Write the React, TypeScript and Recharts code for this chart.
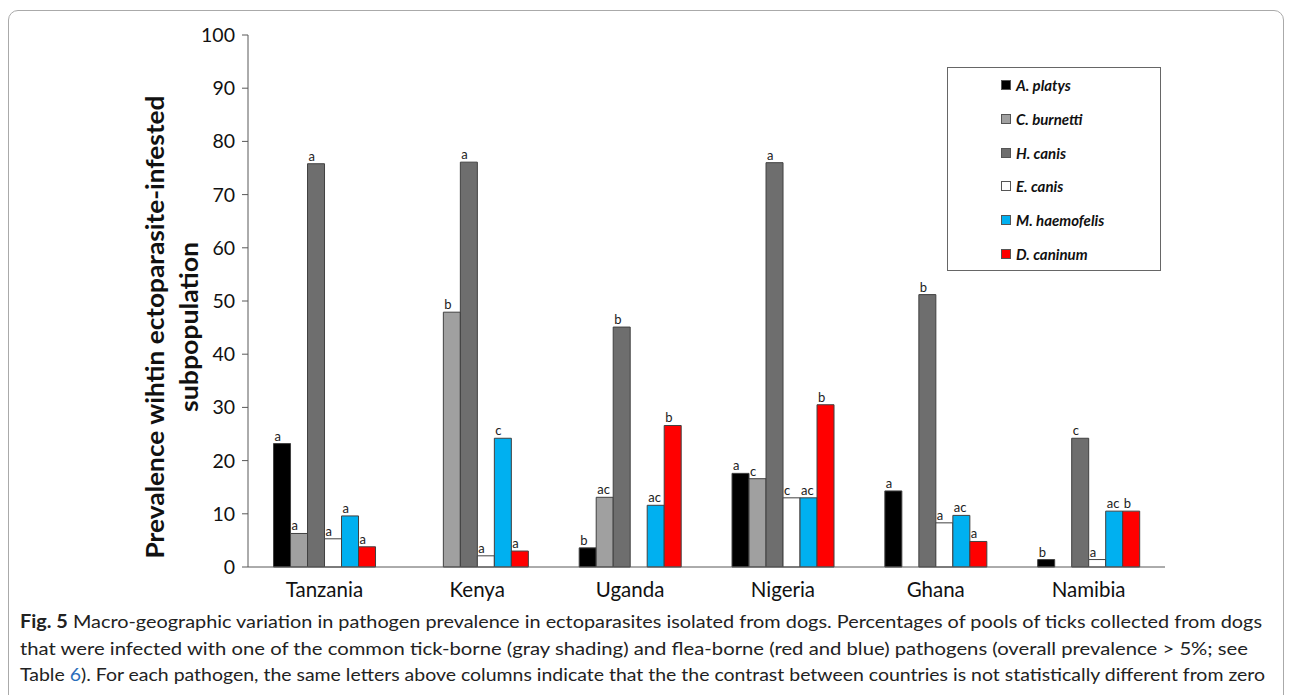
import { BarChart, Bar, XAxis, YAxis, LabelList } from 'recharts';

/* ---------- data ---------- */
const countries = ['Tanzania', 'Kenya', 'Uganda', 'Nigeria', 'Ghana', 'Namibia'];

const aPlatys = [23.2, 0, 3.6, 17.6, 14.3, 1.4];
const cBurnetti = [6.3, 47.9, 13.1, 16.6, 0, 0];
const hCanis = [75.8, 76.1, 45.1, 76.0, 51.2, 24.2];
const eCanis = [5.3, 2.1, 0, 13.0, 8.3, 1.4];
const mHaemofelis = [9.6, 24.2, 11.6, 13.0, 9.7, 10.5];
const dCaninum = [3.8, 3.0, 26.6, 30.5, 4.8, 10.5];

// letters above columns
const aPlatysL = ['a', '', 'b', 'a', 'a', 'b'];
const cBurnettiL = ['a', 'b', 'ac', 'c', '', ''];
const hCanisL = ['a', 'a', 'b', 'a', 'b', 'c'];
const eCanisL = ['a', 'a', '', 'c', 'a', 'a'];
const mHaemofelisL = ['a', 'c', 'ac', 'ac', 'ac', 'ac'];
const dCaninumL = ['a', 'a', 'b', 'b', 'a', 'b'];

const yTicks = [0, 10, 20, 30, 40, 50, 60, 70, 80, 90, 100];

const series = [
  { key: 'ap', name: 'A. platys', color: '#000000', values: aPlatys, letters: aPlatysL },
  { key: 'cb', name: 'C. burnetti', color: '#a0a0a0', values: cBurnetti, letters: cBurnettiL },
  { key: 'hc', name: 'H. canis', color: '#6e6e6e', values: hCanis, letters: hCanisL },
  { key: 'ec', name: 'E. canis', color: '#ffffff', values: eCanis, letters: eCanisL },
  { key: 'mh', name: 'M. haemofelis', color: '#00b0f0', values: mHaemofelis, letters: mHaemofelisL },
  { key: 'dc', name: 'D. caninum', color: '#ff0000', values: dCaninum, letters: dCaninumL },
];

const rows = countries.map((country, i) => {
  const row: Record<string, string | number> = { country };
  series.forEach((s) => {
    row[s.key] = s.values[i];
    row[s.key + 'L'] = s.letters[i];
  });
  return row;
});

const FONT = 'Lato, "Open Sans", sans-serif';

const Letter = (props: any) => {
  const { x, y, value } = props;
  if (!value) return null;
  return (
    <text x={x + 1} y={y - 3} fontSize={13} fill="#222" fontFamily={FONT}>
      {value}
    </text>
  );
};

const LegendBox = () => (
  <div
    style={{
      position: 'absolute',
      left: 947,
      top: 67,
      width: 214,
      height: 204,
      border: '1px solid #666',
      boxSizing: 'border-box',
      background: '#fff',
    }}
  >
    {series.map((s, i) => (
      <div
        key={s.key}
        style={{
          position: 'absolute',
          left: 53,
          top: 8 + i * 33.8,
          display: 'flex',
          alignItems: 'center',
          fontFamily: FONT,
          fontSize: 15,
          fontWeight: 700,
          fontStyle: 'italic',
          color: '#111',
          whiteSpace: 'nowrap',
        }}
      >
        <span
          style={{
            width: 8,
            height: 8,
            background: s.color,
            border: '1px solid #555',
            marginRight: 5,
            display: 'inline-block',
          }}
        />
        {s.name}
      </div>
    ))}
  </div>
);

export default function App() {
  return (
    <div style={{ position: 'absolute', left: 0, top: 0, width: 1292, height: 695, overflow: 'hidden', background: '#fff' }}>
      <div
        style={{
          position: 'absolute',
          left: 8,
          top: 10,
          width: 1276,
          height: 720,
          border: '1px solid #aaa',
          borderRadius: 10,
          boxSizing: 'border-box',
        }}
      />
      <div style={{ position: 'absolute', left: 0, top: 0 }}>
        <BarChart
          width={1292}
          height={695}
          data={rows}
          margin={{ top: 35, left: 188, right: 127, bottom: 98 }}
          barCategoryGap="16.7%"
          barGap={0}
        >
          <XAxis
            dataKey="country"
            stroke="#595959"
            tickLine={false}
            tickSize={0}
            tickMargin={15}
            height={30}
            tick={{ fontSize: 20.5, fill: '#111', fontFamily: FONT }}
          />
          <YAxis
            domain={[0, 100]}
            ticks={yTicks}
            width={60}
            stroke="#595959"
            tickSize={6}
            tickMargin={7}
            interval={0}
            tick={{ fontSize: 19.5, fill: '#111', fontFamily: FONT }}
          />
          {series.map((s) => (
            <Bar
              key={s.key}
              dataKey={s.key}
              name={s.name}
              fill={s.color}
              stroke="#404040"
              strokeWidth={1}
              isAnimationActive={false}
            >
              <LabelList dataKey={s.key + 'L'} content={Letter} />
            </Bar>
          ))}
        </BarChart>
      </div>
      <LegendBox />
      <svg style={{ position: 'absolute', left: 0, top: 0 }} width={1292} height={695}>
        <g fontFamily={FONT} fontWeight={700} fontSize={25} fill="#111" textAnchor="middle">
          <text transform="translate(164,327) rotate(-90)" textLength={463} lengthAdjust="spacingAndGlyphs">
            Prevalence wihtin ectoparasite-infested
          </text>
          <text transform="translate(198,327) rotate(-90)" textLength={170} lengthAdjust="spacingAndGlyphs">
            subpopulation
          </text>
        </g>
        <g fontFamily={FONT} fontSize={18} fill="#222">
          <text x={20} y={628} textLength={1242} lengthAdjust="spacingAndGlyphs">
            <tspan fontWeight={700}>Fig. 5</tspan>
            <tspan>{'  Macro-geographic variation in pathogen prevalence in ectoparasites isolated from dogs. Percentages of pools of ticks collected from dogs'}</tspan>
          </text>
          <text x={20} y={655} textLength={1228} lengthAdjust="spacingAndGlyphs">
            that were infected with one of the common tick-borne (gray shading) and flea-borne (red and blue) pathogens (overall prevalence &gt; 5%; see
          </text>
          <text x={20} y={681} textLength={1245} lengthAdjust="spacingAndGlyphs">
            <tspan>{'Table  '}</tspan>
            <tspan fill="#2a6ebb">6</tspan>
            <tspan>). For each pathogen, the same letters above columns indicate that the the contrast between countries is not statistically different from zero</tspan>
          </text>
        </g>
      </svg>
    </div>
  );
}
